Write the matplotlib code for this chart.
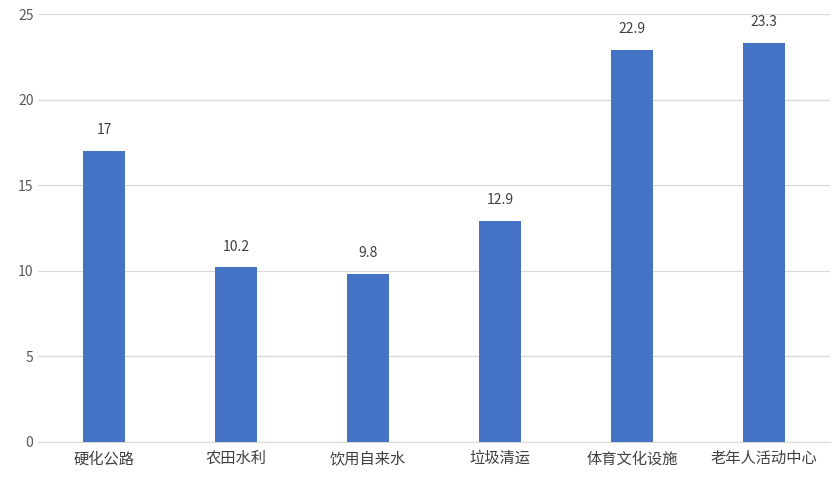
import matplotlib
matplotlib.use("Agg")
import matplotlib.pyplot as plt

plt.rcParams["font.family"] = ["Noto Sans CJK SC", "DejaVu Sans"]

categories = ["硬化公路", "农田水利", "饮用自来水", "垃圾清运", "体育文化设施", "老年人活动中心"]
values = [17, 10.2, 9.8, 12.9, 22.9, 23.3]
labels = ["17", "10.2", "9.8", "12.9", "22.9", "23.3"]

fig = plt.figure(figsize=(8.33, 4.84), dpi=100)
ax = fig.add_axes([0.046, 0.087, 0.95, 0.884])

x = range(len(categories))
bars = ax.bar(x, values, width=0.32, color="#4472C4", zorder=3)
for b, t in zip(bars, labels):
    ax.text(b.get_x() + b.get_width() / 2, b.get_height() + 0.8, t,
            ha="center", va="bottom", fontsize=10, color="#404040")

ax.set_xlim(-0.5, len(categories) - 0.5)
ax.set_ylim(0, 25)
ax.set_yticks(range(0, 26, 5))
ax.set_xticks(list(x))
ax.set_xticklabels(categories, fontsize=11, color="#404040")
ax.tick_params(axis="y", labelsize=10, colors="#595959", length=0)
ax.tick_params(axis="x", length=0, pad=6)
ax.grid(axis="y", color="#D9D9D9", lw=0.9, zorder=0)
for s in ["top", "right", "left"]:
    ax.spines[s].set_visible(False)
ax.spines["bottom"].set_color("#D9D9D9")

fig.savefig("out.png", facecolor="white")
